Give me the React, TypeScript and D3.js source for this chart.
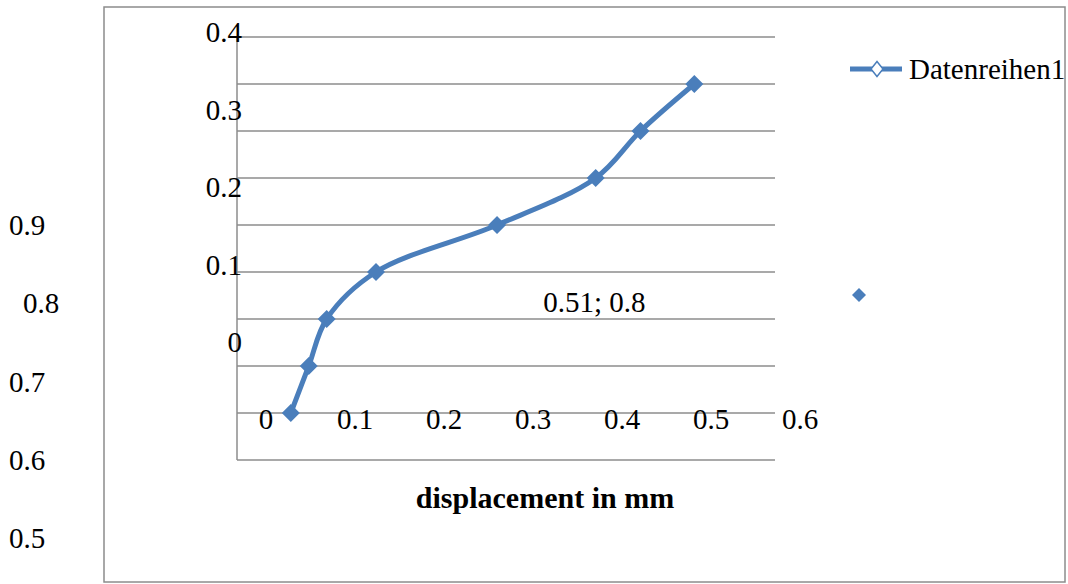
import React from "react";
import * as d3 from "d3";

// Series: displacement (mm) vs. load
const displacement = [0.06, 0.08, 0.1, 0.155, 0.29, 0.4, 0.45, 0.51];
const load = [0.1, 0.2, 0.3, 0.4, 0.5, 0.6, 0.7, 0.8];

// Axis labels
const gridValues = [0.1, 0.2, 0.3, 0.4, 0.5, 0.6, 0.7, 0.8, 0.9];
const xTickValues = [0, 0.1, 0.2, 0.3, 0.4, 0.5, 0.6];
const innerYTicks = [0.4, 0.3, 0.2, 0.1, 0];
const outerYTicks = [0.9, 0.8, 0.7, 0.6, 0.5];

const seriesName = "Datenreihen1";
const pointLabel = "0.51; 0.8";
const xTitle = "displacement in mm";

const W = 1068;
const H = 584;
const BLUE = "#4a7ebb";
const GRID = "#8c8c8c";
const FONT = "Liberation Serif";
const FS = 29;

const x = d3.scaleLinear().domain([0, 0.6]).range([237, 775]);
const y = d3.scaleLinear().domain([0, 0.9]).range([460, 37]);

// label scales (the labels sit on their own spacing)
const xLabelPos = d3.scaleLinear().domain([0, 0.6]).range([266, 800]);
const innerYPos = d3.scaleLinear().domain([0, 0.4]).range([343, 33]);
const outerYPos = d3.scaleLinear().domain([0.5, 0.9]).range([539, 226]);

const fmt = (v: number) => (v === 0 ? "0" : d3.format(".1f")(v));

function diamond(cx: number, cy: number, rx: number, ry: number = rx) {
  return `M${cx},${cy - ry}L${cx + rx},${cy}L${cx},${cy + ry}L${cx - rx},${cy}Z`;
}

const txt = { fontFamily: FONT, fontSize: FS } as const;

export default function App() {
  const pts = displacement.map((d, i) => [x(d), y(load[i])] as [number, number]);
  const line = d3.line().curve(d3.curveCatmullRom.alpha(0.5))(pts) ?? "";
  const last = pts[pts.length - 1];

  return (
    <svg
      width={W}
      height={H}
      style={{ position: "absolute", left: 0, top: 0, background: "#fff", fontFamily: FONT }}
    >
      <rect x={0} y={0} width={W} height={H} fill="#fff" />
      {/* chart frame */}
      <rect x={104} y={7} width={961} height={575} fill="none" stroke={GRID} strokeWidth={1.5} />

      {/* horizontal gridlines */}
      {gridValues.map((v) => (
        <line key={v} x1={x(0)} x2={x(0.6)} y1={y(v)} y2={y(v)} stroke={GRID} strokeWidth={1.5} />
      ))}
      {/* axes */}
      <line x1={x(0)} x2={x(0)} y1={y(0.9)} y2={y(0)} stroke={GRID} strokeWidth={1.5} />
      <line x1={x(0)} x2={x(0.6)} y1={y(0)} y2={y(0)} stroke={GRID} strokeWidth={1.5} />

      {/* inner y labels */}
      {innerYTicks.map((v) => (
        <text key={v} x={242} y={innerYPos(v) + 9} style={txt} textAnchor="end" fill="#000">
          {fmt(v)}
        </text>
      ))}
      {/* outer y labels */}
      {outerYTicks.map((v) => (
        <text key={v} x={v === 0.8 ? 23 : 9} y={outerYPos(v) + 9} style={txt} fill="#000">
          {fmt(v)}
        </text>
      ))}
      {/* x labels */}
      {xTickValues.map((v) => (
        <text key={v} x={xLabelPos(v)} y={429} style={txt} textAnchor="middle" fill="#000">
          {fmt(v)}
        </text>
      ))}

      {/* series */}
      <path d={line} fill="none" stroke={BLUE} strokeWidth={5} strokeLinejoin="round" />
      {pts.map(([px, py], i) => (
        <path key={i} d={diamond(px, py, 9)} fill={BLUE} />
      ))}

      <text x={last[0] - 100} y={312} style={txt} textAnchor="middle" fill="#000">
        {pointLabel}
      </text>

      {/* x title */}
      <text
        x={545}
        y={508}
        style={{ fontFamily: FONT, fontSize: 30 }}
        fontWeight="bold"
        textAnchor="middle"
        fill="#000"
      >
        {xTitle}
      </text>

      {/* legend */}
      <line x1={850} x2={902} y1={69} y2={69} stroke={BLUE} strokeWidth={5} />
      <path d={diamond(877, 69, 6, 7.5)} fill="#fff" stroke={BLUE} strokeWidth={1.5} />
      <text x={909} y={79} style={txt} fill="#000">
        {seriesName}
      </text>
      <path d={diamond(859, 295, 7)} fill={BLUE} />
    </svg>
  );
}
